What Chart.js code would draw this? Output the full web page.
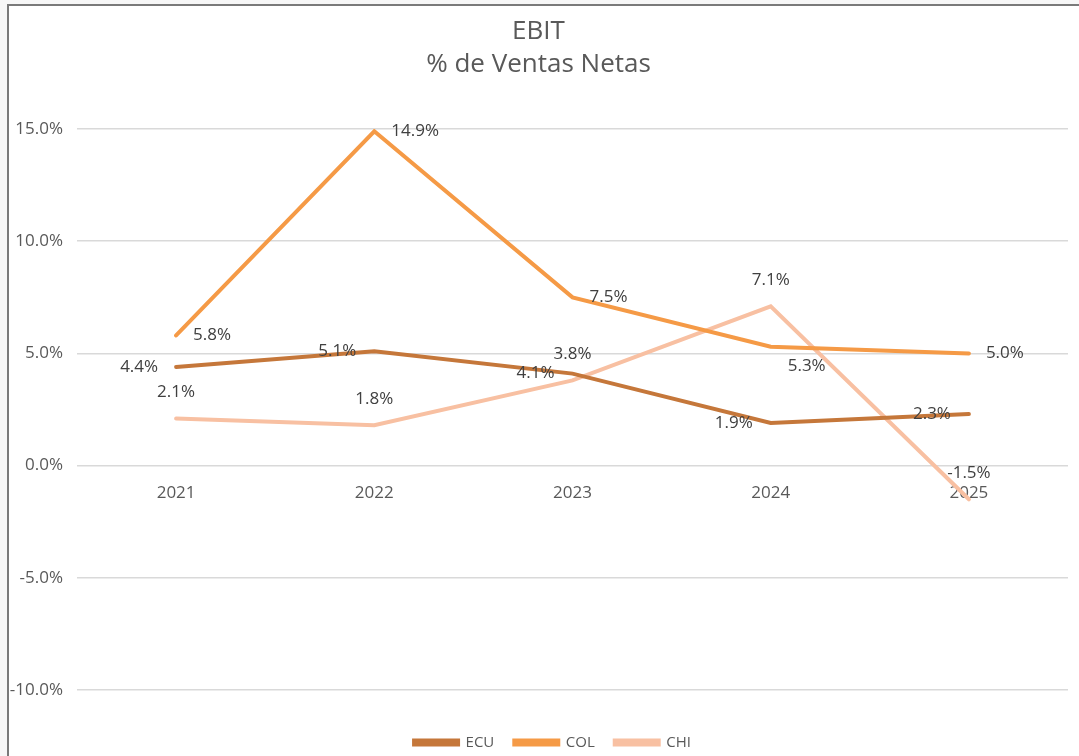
<!DOCTYPE html>
<html>
<head>
<meta charset="utf-8">
<script src="https://cdn.jsdelivr.net/npm/chart.js@4.4.1/dist/chart.umd.min.js"></script>
<style>
    body { margin: 0; background: #f7f7f7; }
    #marco {
        position: absolute; left: 7px; top: 4px; width: 1072px; height: 752px;
        background: #fff; border-left: 2px solid #7a7a7a; border-top: 2px solid #7a7a7a;
    }
    canvas { display: block; }
</style>
</head>
<body>
<div id="marco"><canvas id="graficoEbit" width="1070" height="750"></canvas></div>
<script>
var anos = ['2021', '2022', '2023', '2024', '2025'];
var ebitEcu = [4.4, 5.1, 4.1, 1.9, 2.3];
var ebitCol = [5.8, 14.9, 7.5, 5.3, 5.0];
var ebitChi = [2.1, 1.8, 3.8, 7.1, -1.5];
var ticksY = [-10, -5, 0, 5, 10, 15];

var fonte = '"Open Sans", sans-serif';

// posicao das etiquetas de cada serie (estilo, nao dados)
var posEtiquetas = [
    { align: 'right', dx: -18, dy: 0 },
    { align: 'left', dx: 17, dy: 0, excecao: { 3: { dx: 17, dy: 19 } } },
    { align: 'center', dx: 0, dy: -26 }
];

const pluginEtiquetas = {
    id: 'etiquetas',
    afterLayout(chart) {
        // legenda um pouco mais a direita, como no original
        chart.legend.left += 14;
        chart.legend.right += 14;
    },
    afterDatasetsDraw(chart) {
        const ctx = chart.ctx;
        ctx.save();
        ctx.font = '17px ' + fonte;
        ctx.fillStyle = '#404040';
        ctx.textBaseline = 'middle';
        chart.data.datasets.forEach(function (ds, i) {
            var meta = chart.getDatasetMeta(i);
            var pos = posEtiquetas[i];
            meta.data.forEach(function (ponto, j) {
                var dx = pos.dx, dy = pos.dy;
                if (pos.excecao && pos.excecao[j]) {
                    dx = pos.excecao[j].dx;
                    dy = pos.excecao[j].dy;
                }
                ctx.textAlign = pos.align;
                ctx.fillText(ds.data[j].toFixed(1) + '%', ponto.x + dx, ponto.y + dy);
            });
        });
        ctx.restore();
    }
};

const ctx = document.getElementById('graficoEbit');

const data = {
    labels: anos,
    datasets: [
        { label: 'ECU', data: ebitEcu, borderColor: '#c5773a', backgroundColor: '#c5773a' },
        { label: 'COL', data: ebitCol, borderColor: '#f59a46', backgroundColor: '#f59a46' },
        { label: 'CHI', data: ebitChi, borderColor: '#f8c0a2', backgroundColor: '#f8c0a2' }
    ]
};

const config = {
    type: 'line',
    data: data,
    plugins: [pluginEtiquetas],
    options: {
        responsive: false,
        animation: false,
        layout: { padding: { left: 0, right: 11, top: 0, bottom: -4 } },
        elements: {
            line: { borderWidth: 4, tension: 0, borderCapStyle: 'round' },
            point: { radius: 0, hoverRadius: 0 }
        },
        plugins: {
            title: {
                display: true,
                text: ['EBIT', '% de Ventas Netas'],
                color: '#595959',
                font: { family: fonte, size: 26, weight: 'normal', lineHeight: 1.27 },
                padding: { top: 9, bottom: 48 }
            },
            // espaco entre a legenda e a area do grafico
            subtitle: {
                display: true,
                position: 'bottom',
                weight: 500,
                text: '',
                font: { size: 1, lineHeight: 1 },
                padding: { top: 24, bottom: 0 }
            },
            legend: {
                position: 'bottom',
                labels: {
                    color: '#595959',
                    font: { family: fonte, size: 15 },
                    boxWidth: 44,
                    boxHeight: 4,
                    padding: 20
                }
            },
            tooltip: { enabled: false }
        },
        scales: {
            x: {
                position: { y: 0 },
                offset: true,
                grid: { display: false },
                border: { display: false },
                ticks: { color: '#595959', font: { family: fonte, size: 17 }, padding: 9 }
            },
            y: {
                min: -10,
                max: 15,
                afterFit(escala) { escala.width = 68; },
                afterBuildTicks(escala) {
                    escala.ticks = ticksY.map(function (v) { return { value: v }; });
                },
                grid: { color: '#d9d9d9', lineWidth: 1.5, drawTicks: false },
                border: { display: false },
                ticks: {
                    color: '#595959',
                    font: { family: fonte, size: 17 },
                    padding: 14,
                    callback: function (v) { return v.toFixed(1) + '%'; }
                }
            }
        }
    }
};

new Chart(ctx, config);
</script>
</body>
</html>
